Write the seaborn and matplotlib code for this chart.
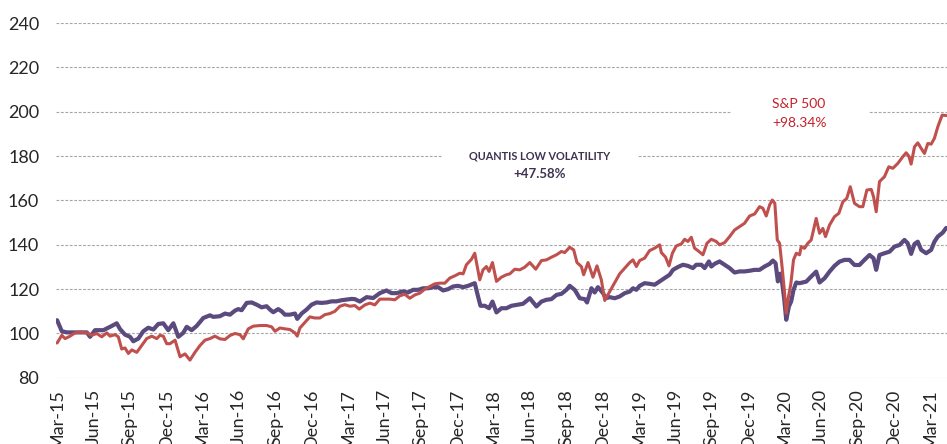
import numpy as np
import pandas as pd
import matplotlib
matplotlib.use("Agg")
import matplotlib.pyplot as plt
import seaborn as sns
from matplotlib.patches import Rectangle

# months since Mar-15 and index level (base 100)
ql_months = [0.0, 0.39, 0.8, 1.62, 2.45, 2.72, 3.13, 3.82, 4.37, 4.92, 5.19, 5.6, 6.02, 6.29, 6.7,
             7.11, 7.52, 7.94, 8.35, 8.76, 9.17, 9.59, 10.0, 10.41, 10.69, 11.1, 11.51, 12.06, 12.61,
             12.88, 13.43, 13.85, 14.26, 14.67, 14.94, 15.22, 15.64, 16.05, 16.46, 16.87, 17.28, 17.56,
             17.83, 18.24, 18.52, 18.79, 19.2, 19.62, 19.81, 20.17, 20.58, 20.99, 21.4, 21.82, 22.23,
             22.64, 23.05, 23.46, 23.88, 24.29, 24.56, 24.97, 25.53, 26.07, 26.62, 27.17, 27.59, 28.0,
             28.54, 28.95, 29.37, 29.78, 30.19, 30.6, 31.01, 31.43, 31.84, 32.25, 32.66, 33.07, 33.49,
             33.9, 34.45, 34.72, 34.92, 35.28, 35.63, 35.91, 36.24, 36.65, 37.06, 37.48, 37.89, 38.43,
             38.99, 39.54, 39.95, 40.36, 40.77, 41.19, 41.6, 42.01, 42.28, 42.69, 43.11, 43.52, 43.71,
             44.07, 44.34, 44.61, 45.03, 45.25, 45.58, 45.99, 46.4, 46.82, 47.23, 47.5, 47.78, 48.05,
             48.46, 48.87, 49.29, 49.7, 50.11, 50.52, 50.8, 51.21, 51.62, 52.03, 52.44, 52.72, 53.14,
             53.41, 53.76, 53.96, 54.23, 54.64, 55.06, 55.47, 55.88, 56.29, 56.7, 57.12, 57.53, 57.94,
             58.35, 58.77, 59.04, 59.26, 59.45, 59.65, 59.81, 59.98, 60.14, 60.36, 60.55, 60.74, 60.97,
             61.24, 61.79, 62.2, 62.61, 62.89, 63.3, 63.71, 64.12, 64.53, 64.95, 65.36, 65.77, 66.18,
             66.59, 67.01, 67.34, 67.56, 67.83, 68.24, 68.66, 69.07, 69.48, 69.89, 70.16, 70.44, 70.72,
             70.99, 71.27, 71.68, 72.09, 72.36, 72.64, 73.05, 73.33]
ql_values = [106, 101, 100.5, 100.5, 100.5, 98.5, 101.5, 101.5, 103, 104.6, 102, 99.5, 98.5, 96.5, 97.7,
             101, 102.6, 101.8, 104.3, 104.6, 101.5, 104.6, 98.5, 100.3, 103, 101.5, 103.4, 107, 108.2,
             107.5, 107.8, 109, 108.5, 110.3, 111, 110.5, 113.8, 114, 113, 111.8, 112.3, 110.8,
             109.6, 111, 110, 108.5, 108.5, 109, 106.6, 109, 110.8, 113, 114, 113.8, 114,
             114.5, 114.5, 115, 115.3, 115.6, 115.5, 114.4, 116.4, 116, 118.2, 119.4, 118.2, 118.2,
             119, 118.5, 119.7, 119.7, 120.4, 120.4, 120.9, 120.9, 119.4, 120, 121.2, 121.5, 120.9,
             121.5, 122.7, 116.7, 112.5, 112.5, 111.4, 114.4, 109.5, 111.4, 111.4, 112.5, 112.9, 113.4,
             115.9, 112.2, 114.4, 115.2, 115.5, 117.4, 117.9, 119.7, 121.5, 119.7, 115.9, 115.5, 114,
             120.4, 118.5, 120.9, 118.2, 115.9, 116.4, 115.9, 116.7, 118.2, 118.9, 120.4, 119.7, 121.5,
             122.7, 122.4, 122, 123.5, 125, 126.5, 128.7, 130, 131, 130.5, 129.5, 131, 131,
             129.5, 132.5, 130.2, 131.4, 132.5, 131, 129.5, 127.5, 128, 128, 128.3, 128.7, 128.7,
             130.2, 131.4, 132.9, 131.7, 123.5, 127, 122.7, 115.2, 106.2, 112.2, 114.5, 119.7, 123,
             122.7, 123.4, 125.7, 127.9, 123, 124.9, 127.9, 130.5, 132.4, 133.2, 133.2, 130.9, 130.9,
             133.2, 135.4, 133.9, 128.7, 135.4, 136.2, 136.9, 139.2, 139.9, 142.2, 140.7, 135.9, 140.4,
             141.4, 137.7, 136.2, 137.7, 141.4, 143.7, 145.5, 147.6]

sp_months = [0.0, 0.39, 0.66, 1.07, 1.48, 1.9, 2.45, 2.86, 3.27, 3.68, 4.1, 4.37, 4.78, 5.05, 5.33,
             5.6, 5.88, 6.16, 6.57, 6.98, 7.39, 7.81, 8.22, 8.49, 8.76, 9.04, 9.31, 9.73, 10.14, 10.55,
             10.96, 11.37, 11.79, 12.2, 12.61, 13.02, 13.43, 13.85, 14.26, 14.67, 15.08, 15.36, 15.77,
             16.18, 16.73, 17.28, 17.7, 17.97, 18.38, 18.79, 19.2, 19.62, 19.81, 20.03, 20.44, 20.85,
             21.26, 21.68, 22.09, 22.5, 22.91, 23.33, 23.74, 24.15, 24.56, 24.92, 25.39, 25.8, 26.21,
             26.62, 27.03, 27.45, 27.86, 28.27, 28.68, 29.09, 29.51, 29.92, 30.33, 30.74, 31.15, 31.57,
             31.98, 32.39, 32.8, 33.22, 33.49, 33.76, 34.18, 34.45, 34.86, 35.13, 35.41, 35.63, 35.91,
             36.24, 36.65, 37.06, 37.34, 37.75, 38.16, 38.57, 38.99, 39.48, 39.95, 40.36, 40.77, 41.19,
             41.6, 41.87, 42.28, 42.61, 42.88, 43.24, 43.43, 43.79, 44.2, 44.53, 44.89, 45.17, 45.58,
             45.99, 46.4, 46.82, 47.23, 47.5, 47.78, 48.05, 48.46, 48.87, 49.29, 49.7, 49.84, 50.19,
             50.47, 50.75, 51.07, 51.49, 51.76, 52.03, 52.31, 52.58, 52.94, 53.27, 53.6, 53.96, 54.37,
             54.64, 55.06, 55.47, 55.88, 56.29, 56.7, 57.12, 57.53, 57.94, 58.21, 58.49, 58.77, 58.99,
             59.2, 59.4, 59.59, 59.78, 59.98, 60.14, 60.33, 60.52, 60.74, 60.97, 61.24, 61.38, 61.65,
             61.92, 62.2, 62.61, 62.89, 63.16, 63.38, 63.71, 64.12, 64.48, 64.81, 65.13, 65.42, 65.77,
             66.18, 66.46, 66.79, 67.15, 67.34, 67.56, 67.83, 68.24, 68.6, 68.93, 69.34, 69.75, 70.03,
             70.25, 70.44, 70.72, 70.99, 71.27, 71.54, 71.82, 72.09, 72.36, 72.64, 73.0, 73.33]
sp_values = [95.7, 99.2, 97.7, 98.8, 100.3, 100.6, 100.3, 99.2, 100, 98.5, 100.3, 98.8, 99.5, 98.5, 93,
             93.5, 91, 92.6, 91.5, 94.6, 97.7, 98.8, 97.7, 99.2, 98.8, 95.4, 95.4, 97, 89.5, 90.8,
             88, 91.5, 94.6, 97, 97.7, 98.8, 97.6, 97.3, 99.1, 100, 99.5, 97.6, 102.1,
             103.3, 103.6, 103.6, 103, 101, 102.5, 102.1, 101.8, 100.3, 98.8, 102.5, 105, 107.5,
             107, 107, 108.5, 109, 110, 112.3, 113, 112.3, 112.6, 111, 112.9, 113.7, 112.9,
             115.5, 115.5, 115.5, 115.2, 117, 117.7, 115.9, 117.4, 118.2, 120, 121.2, 122.4, 122.7,
             122.7, 125, 126, 127.2, 126.9, 131, 133.5, 136.2, 124.2, 128.7, 130.2, 128, 132,
             123.5, 125.4, 126.5, 126.9, 129, 128.7, 129.9, 132, 129, 132.9, 133.2, 134.4, 135.5,
             137, 136.5, 138.9, 137.7, 132, 130.2, 126.5, 132, 125.4, 130.5, 124.2, 114.9, 118.9,
             123, 126.9, 129.5, 132, 133.2, 130.2, 132.9, 134, 137.4, 138.5, 140, 136.5, 134.4,
             130.5, 136.2, 139.5, 140.4, 142.5, 141.5, 143.4, 138.5, 137, 135.5, 140.7, 142.5, 141.5,
             140, 141, 143.7, 146.7, 148.2, 149.7, 153, 153.9, 157.2, 156.5, 153, 158, 160.2,
             158.7, 142.2, 140.7, 131, 119.7, 109.2, 116.7, 122.4, 133.2, 136.2, 135.5, 139.2, 138.4,
             140.7, 142.2, 151.9, 145.2, 147.4, 143.7, 148.9, 152.7, 154.2, 159.4, 160.9, 166.2, 158.7,
             157.2, 157.2, 164.7, 165, 161.7, 154.9, 168.5, 170.7, 175.2, 174.5, 176.7, 179.7, 181.5,
             180, 176.4, 184.2, 186, 183.5, 181.2, 185.7, 185.4, 188, 193.2, 198.5, 198.3]

tick_labels = ["Mar-15", "Jun-15", "Sep-15", "Dec-15", "Mar-16", "Jun-16", "Sep-16", "Dec-16",
               "Mar-17", "Jun-17", "Sep-17", "Dec-17", "Mar-18", "Jun-18", "Sep-18", "Dec-18",
               "Mar-19", "Jun-19", "Sep-19", "Dec-19", "Mar-20", "Jun-20", "Sep-20", "Dec-20", "Mar-21"]
y_ticks = [80, 100, 120, 140, 160, 180, 200, 220, 240]

PURPLE = "#5B4A7E"
RED = "#C0504D"

sns.set_style("white")
plt.rcParams['font.family'] = ['Lato', 'DejaVu Sans']

fig = plt.figure(figsize=(9.47, 4.44), dpi=100)
ax = fig.add_axes([0.059, 0.149, 0.941, 0.799])

ql = pd.DataFrame({"month": ql_months, "value": ql_values})
sp = pd.DataFrame({"month": sp_months, "value": sp_values})

sns.lineplot(data=sp, x="month", y="value", color=RED, linewidth=2.2, estimator=None, ax=ax, zorder=3)
sns.lineplot(data=ql, x="month", y="value", color=PURPLE, linewidth=3.0, estimator=None, ax=ax, zorder=2)

ax.set_xlim(-0.1, 73.4)
ax.set_ylim(80, 240)
ax.set_yticks(y_ticks)
ax.set_xticks(np.arange(len(tick_labels)) * 3)
ax.set_xticklabels(tick_labels, rotation=90, fontsize=13)
ax.tick_params(axis='y', labelsize=13, length=0, pad=12)
ax.tick_params(axis='x', length=0, pad=8)
ax.set_xlabel("")
ax.set_ylabel("")
for s in ax.spines.values():
    s.set_visible(False)

ax.yaxis.grid(True, color="#A6A6A6", linewidth=0.8, linestyle=(0, (2.5, 1.5)))
ax.xaxis.grid(False)
ax.set_axisbelow(True)

# gaps in the gridlines behind the labels
ax.add_patch(Rectangle((31.8, 178), 16.0, 4, facecolor="white", edgecolor="none", zorder=1))
ax.add_patch(Rectangle((55.6, 198), 11.4, 4, facecolor="white", edgecolor="none", zorder=1))

ax.text(39.8, 180, "QUANTIS LOW VOLATILITY", color="#3F3151", fontsize=7.8,
        fontweight="bold", ha="center", va="center")
ax.text(39.8, 171.8, "+47.58%", color="#3F3151", fontsize=9.5,
        fontweight="bold", ha="center", va="center")
ax.text(61.2, 203.3, "S&P 500", color="#C8202A", fontsize=10, ha="center", va="center")
ax.text(61.2, 194.8, "+98.34%", color="#C8202A", fontsize=10, ha="center", va="center")

fig.savefig("out.png", dpi=100)
